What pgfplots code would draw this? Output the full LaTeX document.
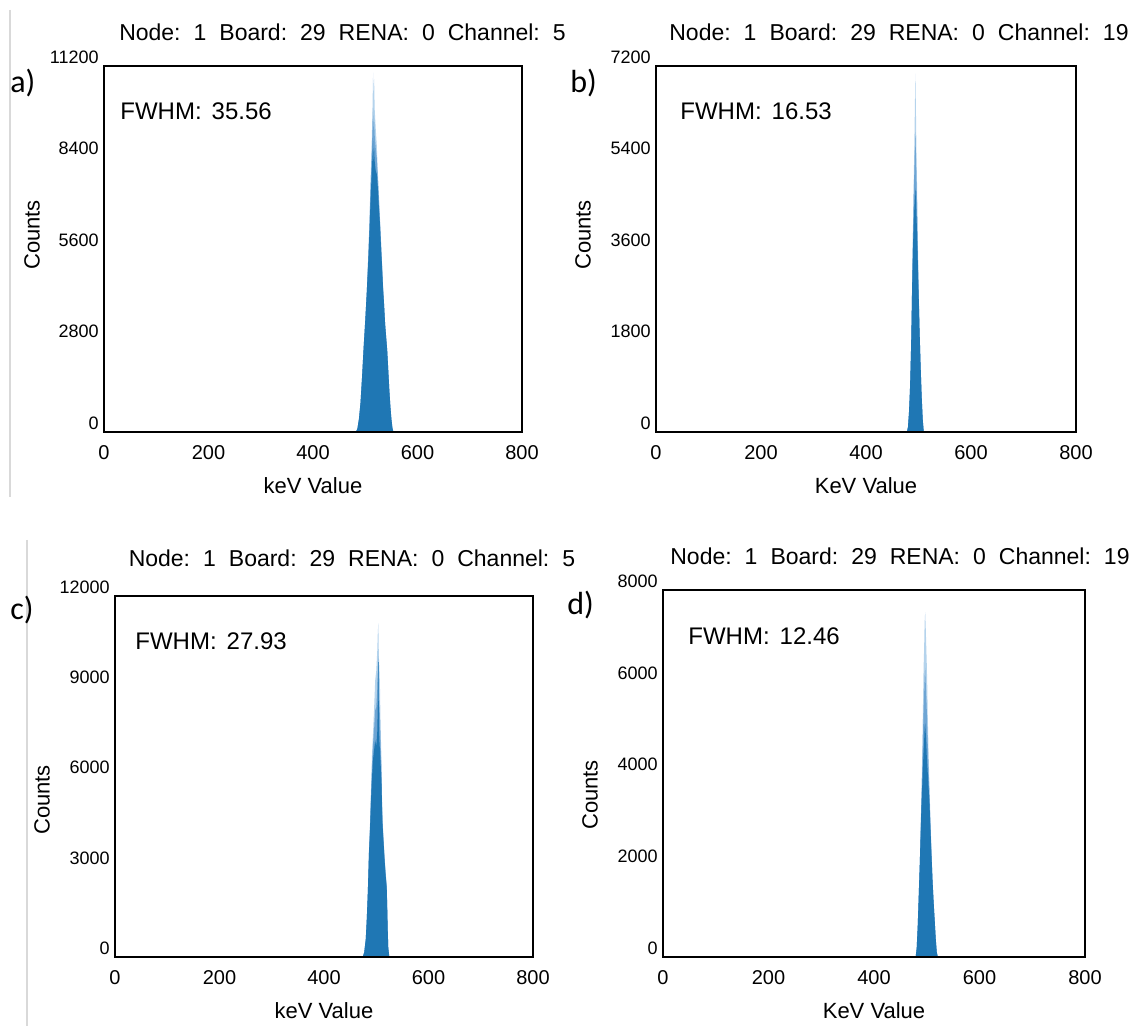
\documentclass[border=0pt]{standalone}
\usepackage{pgfplots}
\pgfplotsset{compat=1.18}
\usepackage{fontspec}
\setmainfont{Liberation Sans}
\newfontfamily\calib{Carlito}
\definecolor{dk}{RGB}{31,119,180}
\definecolor{md}{RGB}{110,165,212}
\definecolor{lt}{RGB}{180,211,236}
\pgfplotsset{
  hist/.style={
    scale only axis, axis on top,
    axis line style={line width=1.1pt},
    xmin=0, xmax=800, ymin=0,
    xtick={0,200,400,600,800},
    major tick length=0pt,
    scaled y ticks=false,
    /pgf/number format/assume math mode=true,
    /pgf/number format/1000 sep={},
    yticklabel style={font=\fontsize{9}{10}\selectfont, anchor=south east, inner sep=1pt, xshift=-1.5pt},
    xticklabel style={font=\fontsize{10}{11}\selectfont, yshift=-3pt},
  }
}
\newcommand{\ttl}[1]{\fontsize{11.5}{12}\selectfont Node:\hspace{6.5pt}1\hspace{6.5pt}Board:\hspace{6.5pt}29\hspace{6.5pt}RENA:\hspace{6.5pt}0\hspace{6.5pt}Channel:\hspace{6.5pt}#1}
\begin{document}
\begin{tikzpicture}
\path[use as bounding box] (0,0) rectangle (568.5pt,513pt);
\draw[gray!30, line width=0.8pt] (5pt,508pt) -- (5pt,264.5pt);
\draw[gray!30, line width=0.8pt] (13.5pt,243pt) -- (13.5pt,0pt);

% ---------- a ----------
\begin{axis}[hist, at={(52pt,297pt)}, anchor=south west, width=209pt, height=183pt,
  ymax=11200, ytick={0,2800,5600,8400,11200}]
\addplot[fill=lt, draw=none] coordinates {(482,0)(485,100)(488,400)(491,900)(494,1700)(497,2600)(500,3400)(503,4300)(506,5500)(508,6400)(510,7600)(512,8600)(514,10000)(515,11000)(516,10300)(517,10800)(518,9900)(520,9300)(522,8800)(524,8000)(526,7300)(528,6600)(530,5900)(532,5200)(534,4500)(536,3900)(538,3300)(540,2900)(542,2500)(544,1900)(546,1300)(548,800)(550,400)(552,120)(554,0)} \closedcycle;
\addplot[fill=md, draw=none] coordinates {(482,0)(485,100)(488,400)(491,900)(494,1700)(497,2600)(500,3400)(503,4300)(506,5450)(508,6300)(510,7400)(512,8300)(514,9300)(515,9900)(516,9200)(517,9600)(518,9100)(520,8700)(522,8400)(524,7800)(526,7200)(528,6500)(530,5850)(532,5150)(534,4450)(536,3900)(538,3300)(540,2900)(542,2500)(544,1900)(546,1300)(548,800)(550,400)(552,120)(554,0)} \closedcycle;
\addplot[fill=dk, draw=none] coordinates {(482,0)(485,100)(488,400)(491,900)(494,1700)(497,2600)(500,3400)(503,4300)(506,5300)(508,6100)(510,7000)(512,7800)(514,8500)(515,8900)(516,8200)(517,8700)(518,8300)(520,8000)(522,7900)(524,7500)(526,6900)(528,6400)(530,5700)(532,5100)(534,4400)(536,3900)(538,3300)(540,2900)(542,2500)(544,1900)(546,1300)(548,800)(550,400)(552,120)(554,0)} \closedcycle;
\end{axis}

% ---------- b ----------
\begin{axis}[hist, at={(328pt,297pt)}, anchor=south west, width=210pt, height=183pt,
  ymax=7200, ytick={0,1800,3600,5400,7200}]
\addplot[fill=lt, draw=none] coordinates {(478,0)(480,100)(482,400)(484,900)(486,1700)(487,2300)(488,3000)(489,3700)(490,4400)(491,5000)(492,5600)(493,6300)(494,7050)(495,6400)(496,5600)(497,5000)(498,4300)(499,3600)(500,3000)(501,2500)(502,2000)(504,1300)(506,700)(508,250)(510,0)} \closedcycle;
\addplot[fill=md, draw=none] coordinates {(478,0)(480,100)(482,400)(484,900)(486,1700)(487,2300)(488,2950)(489,3600)(490,4200)(491,4700)(492,5100)(493,5500)(494,5900)(495,5500)(496,5000)(497,4600)(498,4000)(499,3400)(500,2900)(501,2450)(502,2000)(504,1300)(506,700)(508,250)(510,0)} \closedcycle;
\addplot[fill=dk, draw=none] coordinates {(478,0)(480,100)(482,400)(484,900)(486,1700)(487,2300)(488,2900)(489,3400)(490,3800)(491,4100)(492,4400)(493,4600)(494,4800)(495,4600)(496,4300)(497,4000)(498,3600)(499,3200)(500,2800)(501,2400)(502,2000)(504,1300)(506,700)(508,250)(510,0)} \closedcycle;
\end{axis}

% ---------- c ----------
\begin{axis}[hist, at={(57.5pt,34.5pt)}, anchor=south west, width=209pt, height=180.5pt,
  ymax=12000, ytick={0,3000,6000,9000,12000}]
\addplot[fill=lt, draw=none] coordinates {(474,0)(477,150)(480,600)(482,1300)(484,2200)(486,3500)(488,4400)(490,5600)(492,6800)(494,7500)(496,8300)(498,9200)(500,9500)(502,10200)(503,10800)(504,11100)(505,10000)(506,9600)(507,9100)(508,8000)(509,7200)(510,6600)(511,5300)(512,4600)(514,3900)(516,3300)(518,2800)(520,2400)(521,1700)(522,900)(523,300)(525,0)} \closedcycle;
\addplot[fill=md, draw=none] coordinates {(474,0)(477,150)(480,600)(482,1300)(484,2200)(486,3450)(488,4300)(490,5400)(492,6400)(494,7100)(496,7600)(498,8200)(500,8300)(502,8900)(503,9500)(504,10000)(505,8900)(506,8400)(507,8000)(508,7300)(509,6700)(510,6200)(511,5150)(512,4500)(514,3850)(516,3250)(518,2750)(520,2350)(521,1650)(522,880)(523,300)(525,0)} \closedcycle;
\addplot[fill=dk, draw=none] coordinates {(474,0)(477,150)(480,600)(482,1300)(484,2200)(486,3400)(488,4200)(490,5200)(492,6000)(494,6600)(496,6900)(498,7200)(500,7000)(502,7500)(503,8500)(503.6,9800)(504.4,9800)(505,7800)(506,7200)(507,6900)(508,6600)(509,6200)(510,5800)(511,5000)(512,4400)(514,3800)(516,3200)(518,2700)(520,2300)(521,1600)(522,850)(523,300)(525,0)} \closedcycle;
\end{axis}

% ---------- d ----------
\begin{axis}[hist, at={(331.5pt,34.5pt)}, anchor=south west, width=211pt, height=183.5pt,
  ymax=8000, ytick={0,2000,4000,6000,8000}]
\addplot[fill=lt, draw=none] coordinates {(479,0)(481,200)(483,700)(485,1400)(487,2100)(489,3100)(490,3600)(491,4200)(492,4900)(493,5600)(494,6300)(495,6700)(496,7300)(497,7520)(498,7200)(499,6800)(500,6400)(501,5900)(502,5200)(503,4700)(504,4200)(505,3800)(507,3000)(509,2300)(511,1650)(513,1200)(515,800)(517,400)(519,100)(521,0)} \closedcycle;
\addplot[fill=md, draw=none] coordinates {(479,0)(481,200)(483,700)(485,1400)(487,2100)(489,3000)(490,3450)(491,3900)(492,4400)(493,4900)(494,5400)(495,5700)(496,6100)(497,6300)(498,6000)(499,5700)(500,5400)(501,5000)(502,4600)(503,4250)(504,3900)(505,3600)(507,2900)(509,2250)(511,1650)(513,1200)(515,800)(517,400)(519,100)(521,0)} \closedcycle;
\addplot[fill=dk, draw=none] coordinates {(479,0)(481,200)(483,700)(485,1400)(487,2100)(489,2900)(490,3300)(491,3600)(492,3900)(493,4200)(494,4500)(495,4700)(496,5000)(497,5100)(498,4900)(499,4700)(500,4400)(501,4200)(502,4000)(503,3800)(504,3600)(505,3400)(507,2800)(509,2200)(511,1650)(513,1200)(515,800)(517,400)(519,100)(521,0)} \closedcycle;
\end{axis}

% ---------- texts ----------
\node[anchor=base] at (171.25pt,492.65pt) {\ttl{5}};
\node[anchor=base] at (449.5pt,492.65pt) {\ttl{19}};
\node[anchor=base] at (176pt,229.5pt) {\ttl{5}};
\node[anchor=base] at (450pt,230.5pt) {\ttl{19}};

\node[anchor=base west, inner sep=0pt] at (60pt,453pt) {\fontsize{12}{13}\selectfont FWHM:\hspace{5pt}35.56};
\node[anchor=base west, inner sep=0pt] at (340pt,453pt) {\fontsize{12}{13}\selectfont FWHM:\hspace{5pt}16.53};
\node[anchor=base west, inner sep=0pt] at (67.5pt,188pt) {\fontsize{12}{13}\selectfont FWHM:\hspace{5pt}27.93};
\node[anchor=base west, inner sep=0pt] at (344pt,190.5pt) {\fontsize{12}{13}\selectfont FWHM:\hspace{5pt}12.46};

\node[anchor=west, inner sep=0pt] at (5pt,471.5pt) {\calib\fontsize{16}{17}\selectfont a)};
\node[anchor=west, inner sep=0pt] at (285pt,471.5pt) {\calib\fontsize{16}{17}\selectfont b)};
\node[anchor=west, inner sep=0pt] at (5pt,208pt) {\calib\fontsize{16}{17}\selectfont c)};
\node[anchor=west, inner sep=0pt] at (283.5pt,210.5pt) {\calib\fontsize{16}{17}\selectfont d)};

\node[rotate=90] at (16pt,395.5pt) {\fontsize{11}{12}\selectfont Counts};
\node[rotate=90] at (291.5pt,395.5pt) {\fontsize{11}{12}\selectfont Counts};
\node[rotate=90] at (21pt,113pt) {\fontsize{11}{12}\selectfont Counts};
\node[rotate=90] at (295pt,115.5pt) {\fontsize{11}{12}\selectfont Counts};

\node at (156.5pt,270pt) {\fontsize{11}{12}\selectfont keV Value};
\node at (433pt,270pt) {\fontsize{11}{12}\selectfont KeV Value};
\node at (162pt,7.5pt) {\fontsize{11}{12}\selectfont keV Value};
\node at (437pt,7.5pt) {\fontsize{11}{12}\selectfont KeV Value};
\end{tikzpicture}
\end{document}
